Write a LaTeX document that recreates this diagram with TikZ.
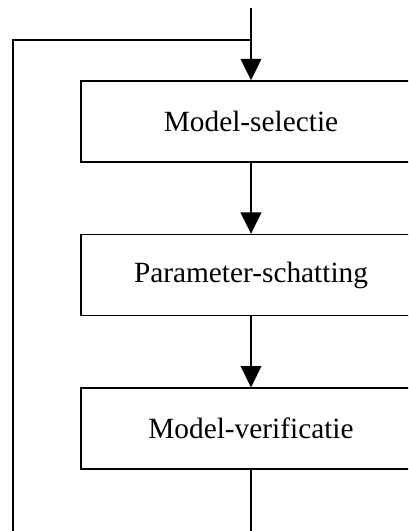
\documentclass[tikz,border=0pt]{standalone}
\usepackage{fontspec}
\setmainfont{Liberation Serif}
\usetikzlibrary{arrows.meta,positioning}

\begin{document}
\begin{tikzpicture}[x=0.75pt,y=-0.75pt,line width=1.2pt,
    node distance=53.25pt,
    stap/.style = {draw, rectangle, minimum width=255pt, minimum height=60.75pt,
        font=\fontsize{22}{26}\selectfont},
    pijl/.style = {-{Triangle[width=15.5pt,length=16pt]}}]
\useasboundingbox (0,0) rectangle (408,531);
\clip (0,0) rectangle (408,531);
\node[stap] (sel) at (251,121.5) {Model-selectie};
\node[stap, below=of sel] (par) {Parameter-schatting};
\node[stap, below=of par] (ver) {Model-verificatie};
\coordinate (in) at (251,8);
\coordinate (join) at (251,40);
\coordinate (back) at (13,560);
\draw[pijl] (in) -- (sel);
\draw[pijl] (sel) -- (par);
\draw[pijl] (par) -- (ver);
% terugkoppeling
\draw (ver.south) -- (ver.south |- back) -- (back) |- (join);
\end{tikzpicture}
\end{document}
